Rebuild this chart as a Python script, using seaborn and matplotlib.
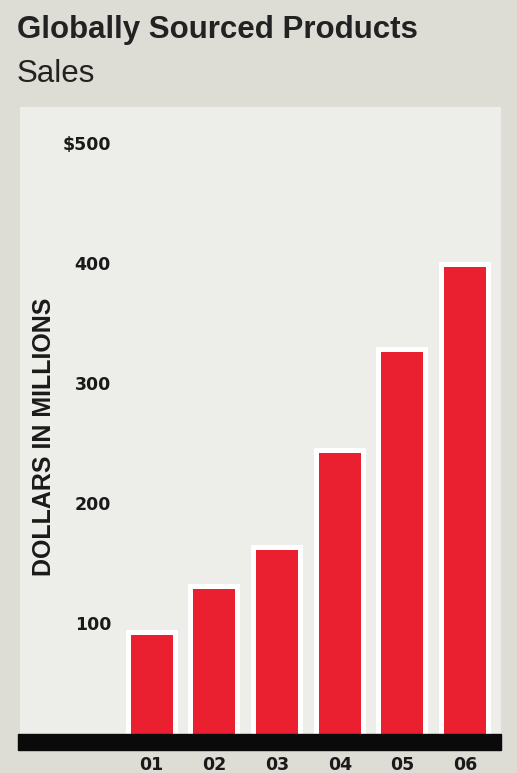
import matplotlib
matplotlib.use("Agg")
import matplotlib.pyplot as plt
import matplotlib.patheffects as pe
import seaborn as sns
import pandas as pd

# data
years = ["01", "02", "03", "04", "05", "06"]
sales = [90, 128, 161, 242, 326, 397]  # $ millions
y_ticks = [100, 200, 300, 400, 500]
y_tick_labels = ["100", "200", "300", "400", "$500"]

outer_bg = "#ddddd5"
panel_bg = "#ededea"
bar_red = "#ea1f30"

sns.set_style("white")
plt.rcParams["font.family"] = ["Liberation Sans", "DejaVu Sans"]

df = pd.DataFrame({"year": years, "sales": sales})

fig = plt.figure(figsize=(5.17, 7.73), dpi=100, facecolor=outer_bg)
ax = fig.add_axes([0.0387, 0.0298, 0.930, 0.8318])
ax.set_facecolor(panel_bg)

sns.barplot(data=df, x="year", y="sales", color=bar_red, saturation=1,
            width=0.67, ax=ax, zorder=2)

# white halo round each bar
for p in ax.patches:
    p.set_edgecolor("none")
    p.set_path_effects([pe.Stroke(linewidth=7.2, foreground="white"), pe.Normal()])

# thick black base
ax.axhspan(-5.8, 7.5, xmin=-0.005, color="#0a0a0a", zorder=5, clip_on=False)

ax.set_xlim(-2.10, 5.57)
ax.set_ylim(-5.8, 530)

ax.set_yticks(y_ticks)
ax.set_yticklabels(y_tick_labels, fontsize=12.5, fontweight="bold",
                   family="DejaVu Sans", color="#1a1a1a")
ax.tick_params(axis="y", length=0, pad=-65.5)
ax.tick_params(axis="x", length=0, pad=4)
for lab in ax.get_xticklabels():
    lab.set_fontsize(12.5)
    lab.set_fontweight("bold")
    lab.set_family("DejaVu Sans")
    lab.set_color("#1a1a1a")

ax.set_xlabel("")
ax.set_ylabel("DOLLARS IN MILLIONS", fontsize=18, fontweight="bold",
              color="#1a1a1a", va="center")
ax.yaxis.set_label_coords(0.05, 0.4876)

for s in ax.spines.values():
    s.set_visible(False)

fig.text(0.033, 0.9508, "Globally Sourced Products", fontsize=22.5,
         fontweight="bold", color="#222222", va="baseline")
fig.text(0.033, 0.894, "Sales", fontsize=22.5, color="#222222", va="baseline")

fig.savefig("out.png", dpi=100, facecolor=outer_bg)
